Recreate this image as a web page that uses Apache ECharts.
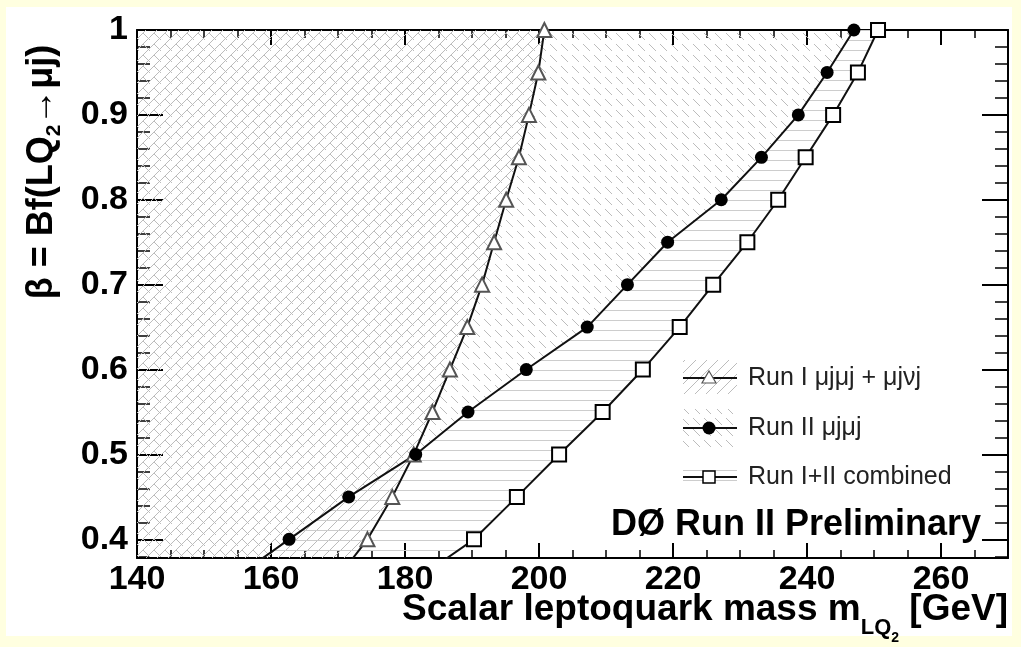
<!DOCTYPE html>
<html><head><meta charset="utf-8">
<script src="https://cdn.jsdelivr.net/npm/echarts@6/dist/echarts.min.js"></script>
<style>html,body{margin:0;padding:0;background:#FFFFE0;}#c{width:1021px;height:647px;}</style>
</head><body><div id="c"></div>
<script>
// ---- data ----
const betaValues   = [1.00, 0.95, 0.90, 0.85, 0.80, 0.75, 0.70, 0.65, 0.60, 0.55, 0.50, 0.45, 0.40, 0.35];
const runIMass     = [200.8, 199.9, 198.5, 197.0, 195.1, 193.3, 191.5, 189.3, 186.7, 184.1, 181.3, 178.1, 174.4, 169.5];
const runIIMass    = [247.0, 243.0, 238.7, 233.2, 227.2, 219.2, 213.2, 207.2, 198.1, 189.4, 181.6, 171.6, 162.7, 153.8];
const combinedMass = [250.6, 247.6, 243.9, 239.8, 235.7, 231.1, 226.0, 221.0, 215.5, 209.5, 203.0, 196.7, 190.3, 181.2];
const yMajorTicks  = [0.4, 0.5, 0.6, 0.7, 0.8, 0.9, 1.0];
const yMinorTicks  = [0.38, 0.42, 0.44, 0.46, 0.48, 0.52, 0.54, 0.56, 0.58, 0.62, 0.64, 0.66, 0.68, 0.72, 0.74, 0.76, 0.78, 0.82, 0.84, 0.86, 0.88, 0.92, 0.94, 0.96, 0.98];
const seriesNames  = ['Run I \u03bcj\u03bcj + \u03bcj\u03bdj', 'Run II \u03bcj\u03bcj', 'Run I+II combined'];
const xRange = [140, 270];
const yRange = [0.378, 1];

const FONT = "'Liberation Sans', Arial, Helvetica, sans-serif";

// ---- hatch patterns ----
function makePattern(kind) {
  const c = document.createElement('canvas');
  const ctx = c.getContext('2d');
  if (kind === 'fwd') {
    const s = 11; c.width = s; c.height = s;
    ctx.strokeStyle = '#bcbcbc'; ctx.lineWidth = 1;
    ctx.beginPath();
    ctx.moveTo(0, s); ctx.lineTo(s, 0);
    ctx.moveTo(-2, 2); ctx.lineTo(2, -2);
    ctx.moveTo(s - 2, s + 2); ctx.lineTo(s + 2, s - 2);
    ctx.stroke();
  } else if (kind === 'back') {
    const s = 11; c.width = s; c.height = s;
    ctx.strokeStyle = '#bcbcbc'; ctx.lineWidth = 1;
    ctx.beginPath();
    ctx.moveTo(0, 0); ctx.lineTo(7, 7);
    ctx.stroke();
  } else {
    c.width = 4; c.height = 10;
    ctx.fillStyle = '#cdcdcd';
    ctx.fillRect(0, 0, 4, 1);
  }
  return c;
}
const patFwd = makePattern('fwd');
const patBack = makePattern('back');
const patHor = makePattern('hor');

function pairs(xs) { return xs.map((x, i) => [x, betaValues[i]]); }

function regionSeries(polyFn, pat) {
  return {
    type: 'custom', xAxisIndex: 0, yAxisIndex: 0, silent: true, z: 1, clip: true,
    data: [0],
    renderItem: function (params, api) {
      const pts = polyFn().map(p => api.coord(p));
      const cs = params.coordSys;
      return {
        type: 'polygon', shape: { points: pts },
        style: { fill: { image: pat, repeat: 'repeat' }, stroke: null },
        clipPath: { type: 'rect', shape: { x: cs.x, y: cs.y, width: cs.width, height: cs.height } }
      };
    }
  };
}
const xL = xRange[0];
const lastB = betaValues[betaValues.length - 1];
const polyRunI = () => [[xL, 1]].concat(pairs(runIMass)).concat([[xL, lastB]]);
const polyRunII = () => [[xL, 1]].concat(pairs(runIIMass)).concat([[xL, lastB]]);
const polyComb = () => pairs(runIIMass).concat(pairs(combinedMass).reverse());

function lineSeries(name, xs, symbol, size, color, bw) {
  return {
    type: 'line', name: name, data: pairs(xs), xAxisIndex: 0, yAxisIndex: 0, z: 5,
    symbol: symbol, symbolSize: size, showAllSymbol: true, clip: true,
    lineStyle: { color: '#111', width: 2 },
    itemStyle: { color: color, borderWidth: bw },
    emphasis: { disabled: true }, animation: false
  };
}

const axisCommon = {
  type: 'value',
  axisLine: { show: true, onZero: false, lineStyle: { color: '#000', width: 2 } },
  splitLine: { show: false }
};
function xAx(pos, labels) {
  return Object.assign({}, axisCommon, {
    position: pos, min: xRange[0], max: xRange[1], interval: 20,
    axisTick: { show: true, inside: true, length: 15, lineStyle: { color: '#000', width: 2 } },
    minorTick: { show: true, splitNumber: 4, length: 8, lineStyle: { color: '#000', width: 1.5 } },
    axisLabel: labels ? { show: true, showMaxLabel: false, margin: 5, color: '#000', fontFamily: FONT, fontWeight: 'bold', fontSize: 34 } : { show: false }
  });
}
function yAx(pos, ticks, len, labels, line) {
  return Object.assign({}, axisCommon, {
    position: pos, min: yRange[0], max: yRange[1],
    axisLine: { show: line, onZero: false, lineStyle: { color: '#000', width: 2 } },
    axisTick: { show: true, inside: true, length: len, customValues: ticks, lineStyle: { color: '#000', width: len > 20 ? 2 : 1.5 } },
    axisLabel: labels ? { show: true, customValues: ticks, margin: 9, color: '#000', fontFamily: FONT, fontWeight: 'bold', fontSize: 34,
      formatter: v => (Math.abs(v - 1) < 1e-9 ? '1' : v.toFixed(1)) } : { show: false }
  });
}

// ---- text helpers ----
const mctx = document.createElement('canvas').getContext('2d');
function tw(text, font) { mctx.font = font; return mctx.measureText(text).width; }
function txt(text, x, y, font, align, z) {
  return { type: 'text', x: x, y: y, z: z || 50, silent: true,
    style: { text: text, font: font, fill: '#000', align: align || 'left', textAlign: align || 'left', verticalAlign: 'middle', textVerticalAlign: 'middle' } };
}

// X title
const fMain = 'bold 37px ' + FONT, fSub = 'bold 22px ' + FONT, fSub2 = 'bold 14px ' + FONT;
const xt1 = 'Scalar leptoquark mass m', xt2 = 'LQ', xt3 = '2', xt4 = ' [GeV]';
const w1 = tw(xt1, fMain), w2 = tw(xt2, fSub), w3 = tw(xt3, fSub2), w4 = tw(xt4, fMain);
const xEnd = 1008, xtY = 610;
let xs0 = xEnd - (w1 + w2 + w3 + w4);
const xTitle = [
  txt(xt1, xs0, xtY, fMain), txt(xt2, xs0 + w1, xtY + 18, fSub),
  txt(xt3, xs0 + w1 + w2, xtY + 28, fSub2), txt(xt4, xs0 + w1 + w2 + w3, xtY, fMain)
];
// Y title (rotated)
const fy = 'bold 36px ' + FONT, fy2 = 'bold 21px ' + FONT;
const yt1 = '\u03b2 = Bf(LQ', yt2 = '2', yt3 = '\u2192\u03bcj)';
const v1 = tw(yt1, fy), v2 = tw(yt2, fy2), v3 = tw(yt3, fy);
const vW = v1 + v2 + v3;
const yTitle = {
  type: 'group', x: 42, y: 172, rotation: Math.PI / 2, z: 50,
  children: [txt(yt1, -vW / 2, 0, fy), txt(yt2, -vW / 2 + v1, 12, fy2), txt(yt3, -vW / 2 + v1 + v2, 0, fy)]
};

// Legend (drawn by hand so the hatch boxes show)
const fLeg = '25px ' + FONT;
function legEntry(yc, boxTop, boxH, pat, marker, label) {
  return [
    { type: 'rect', z: 40, shape: { x: 683, y: boxTop, width: 54, height: boxH }, style: { fill: { image: pat, repeat: 'repeat' } } },
    { type: 'line', z: 41, shape: { x1: 683, y1: yc, x2: 737, y2: yc }, style: { stroke: '#111', lineWidth: 2 } },
    marker,
    { type: 'text', z: 42, x: 748, y: yc, style: { text: label, font: fLeg, fill: '#222', verticalAlign: 'middle', textVerticalAlign: 'middle' } }
  ];
}
const legend = [].concat(
  legEntry(378, 360, 34, patFwd, { type: 'polygon', z: 42, shape: { points: [[709, 371], [716, 383], [702, 383]] }, style: { fill: '#fff', stroke: '#555', lineWidth: 1.2 } }, seriesNames[0]),
  legEntry(428, 409, 38, patBack, { type: 'circle', z: 42, shape: { cx: 709, cy: 428, r: 6.5 }, style: { fill: '#000' } }, seriesNames[1]),
  legEntry(477, 466, 20, patHor, { type: 'rect', z: 42, shape: { x: 703, y: 471, width: 12, height: 12 }, style: { fill: '#fff', stroke: '#000', lineWidth: 1.5 } }, seriesNames[2])
);

const chart = echarts.init(document.getElementById('c'), null, { renderer: 'canvas' });
chart.setOption({
  animation: false,
  backgroundColor: '#FFFFE0',
  grid: { left: 137, right: 13, top: 30, bottom: 89, containLabel: false },
  xAxis: [xAx('bottom', true), xAx('top', false)],
  yAxis: [
    yAx('left', yMajorTicks, 26, true, true),
    yAx('left', yMinorTicks, 13, false, false),
    yAx('right', yMajorTicks, 26, false, true),
    yAx('right', yMinorTicks, 13, false, false)
  ],
  series: [
    regionSeries(polyRunI, patFwd),
    regionSeries(polyRunII, patBack),
    regionSeries(polyComb, patHor),
    lineSeries(seriesNames[0], runIMass, 'emptyTriangle', 14, '#555', 1.2),
    lineSeries(seriesNames[1], runIIMass, 'circle', 13, '#000', 0),
    lineSeries(seriesNames[2], combinedMass, 'emptyRect', 14, '#000', 1.5)
  ],
  graphic: { elements: [
    { type: 'rect', z: -100, silent: true, shape: { x: 6, y: 7, width: 1006, height: 629 }, style: { fill: '#fff' } },
    txt('D\u00d8 Run II Preliminary', 981, 525, 'bold 36px ' + FONT, 'right', 45)
  ].concat(xTitle, [yTitle], legend) }
});
</script></body></html>
